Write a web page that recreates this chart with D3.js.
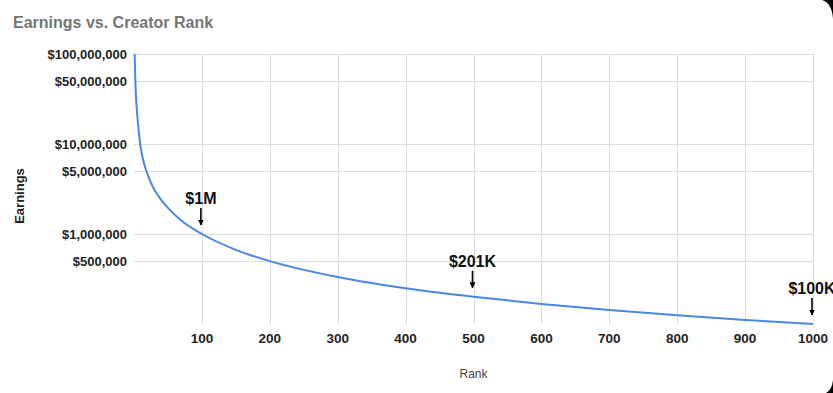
<!DOCTYPE html>
<html>
<head>
<meta charset="utf-8">
<script src="https://cdn.jsdelivr.net/npm/d3@7"></script>
<style>
  body { margin: 0; background: #fff; }
  svg { display: block; font-family: "Liberation Sans", Arial, sans-serif; }
</style>
</head>
<body>
<svg id="chart" width="833" height="393"></svg>
<script>
// values
var ranks    = [1, 2, 3, 4, 5, 7, 10, 15, 20, 30, 40, 50, 70, 100, 150, 200, 300, 400, 500, 600, 700, 800, 900, 1000];
var earnings = [100000000, 50000000, 33000000, 25000000, 20000000, 14000000, 9000000, 6000000, 4600000, 3100000, 2400000, 1950000, 1400000, 1000000, 667000, 500000, 333000, 250000, 201000, 167000, 143000, 125000, 111000, 100000];

var xTicks = [100, 200, 300, 400, 500, 600, 700, 800, 900, 1000];
var yTicks = [100000000, 50000000, 10000000, 5000000, 1000000, 500000];

var annoRanks  = [100, 500, 1000];
var annoValues = [1000000, 201000, 100000];
var annoLabels = ["$1M", "$201K", "$100K"];

var svg = d3.select("#chart"),
    width = +svg.attr("width"),
    height = +svg.attr("height");

// plot box (note: "top" is taken by window.top, so use other names)
var plotL = 134, plotR = 813, plotT = 54, plotB = 324;

var x = d3.scaleLinear().domain([0, 1000]).range([plotL, plotR]);
var y = d3.scaleLog().domain([100000, 100000000]).range([plotB, plotT]);

var fmt = d3.format("$,");

// title
svg.append("text")
   .attr("x", 13).attr("y", 28)
   .attr("font-size", "16px").attr("font-weight", "bold")
   .attr("fill", "#757575")
   .text("Earnings vs. Creator Rank");

// grid
var grid = svg.append("g").attr("stroke", "#dcdcdc").attr("stroke-width", 1);
grid.selectAll(".hg").data(yTicks).enter().append("line")
    .attr("x1", plotL).attr("x2", plotR)
    .attr("y1", function(d) { return Math.round(y(d)) + 0.5; })
    .attr("y2", function(d) { return Math.round(y(d)) + 0.5; });
grid.selectAll(".vg").data(xTicks).enter().append("line")
    .attr("y1", plotT).attr("y2", plotB)
    .attr("x1", function(d) { return Math.round(x(d)) + 0.5; })
    .attr("x2", function(d) { return Math.round(x(d)) + 0.5; });

// y tick labels
svg.append("g").selectAll("text").data(yTicks).enter().append("text")
   .attr("x", 127)
   .attr("y", function(d) { return y(d) + 4.5; })
   .attr("text-anchor", "end")
   .attr("font-size", "13px").attr("font-weight", "bold")
   .attr("fill", "#222")
   .text(function(d) { return fmt(d); });

// x tick labels
svg.append("g").selectAll("text").data(xTicks).enter().append("text")
   .attr("x", function(d) { return x(d); })
   .attr("y", plotB + 19)
   .attr("text-anchor", "middle")
   .attr("font-size", "13.5px").attr("font-weight", "bold")
   .attr("fill", "#222")
   .text(function(d) { return d; });

// axis titles
svg.append("text")
   .attr("x", x(500)).attr("y", 378)
   .attr("text-anchor", "middle")
   .attr("font-size", "12px")
   .attr("fill", "#444")
   .text("Rank");

svg.append("text")
   .attr("transform", "translate(24,196) rotate(-90)")
   .attr("text-anchor", "middle")
   .attr("font-size", "13px").attr("font-weight", "bold")
   .attr("fill", "#222")
   .text("Earnings");

// the line
var pts = ranks.map(function(r, i) { return [r, earnings[i]]; });
var line = d3.line()
    .x(function(d) { return x(d[0]); })
    .y(function(d) { return y(d[1]); })
    .curve(d3.curveMonotoneX);

svg.append("path")
   .datum(pts)
   .attr("fill", "none")
   .attr("stroke", "#4a86e8")
   .attr("stroke-width", 2)
   .attr("d", line);

// annotations
svg.append("defs").append("marker")
   .attr("id", "arr")
   .attr("viewBox", "0 0 10 10")
   .attr("refX", 9).attr("refY", 5)
   .attr("markerWidth", 6).attr("markerHeight", 6)
   .attr("markerUnits", "userSpaceOnUse")
   .attr("orient", "auto")
   .append("path").attr("d", "M0,0 L10,5 L0,10 z").attr("fill", "#000");

var anno = svg.append("g").selectAll("g").data(annoRanks).enter().append("g");
anno.append("line")
    .attr("x1", function(d) { return x(d) - 1; })
    .attr("x2", function(d) { return x(d) - 1; })
    .attr("y1", function(d, i) { return y(annoValues[i]) - 26; })
    .attr("y2", function(d, i) { return y(annoValues[i]) - 9; })
    .attr("stroke", "#000").attr("stroke-width", 1.6)
    .attr("marker-end", "url(#arr)");
anno.append("text")
    .attr("x", function(d) { return x(d) - 1; })
    .attr("y", function(d, i) { return y(annoValues[i]) - 30; })
    .attr("text-anchor", "middle")
    .attr("font-size", "16px").attr("font-weight", "bold")
    .attr("fill", "#111")
    .text(function(d, i) { return annoLabels[i]; });

// dark rounded corners of the screenshot
svg.append("path").attr("d", "M822,0 Q832,3 833,19 L833,0 Z").attr("fill", "#000");
svg.append("path").attr("d", "M833,380 Q832,390 826,393 L833,393 Z").attr("fill", "#000");
</script>
</body>
</html>
